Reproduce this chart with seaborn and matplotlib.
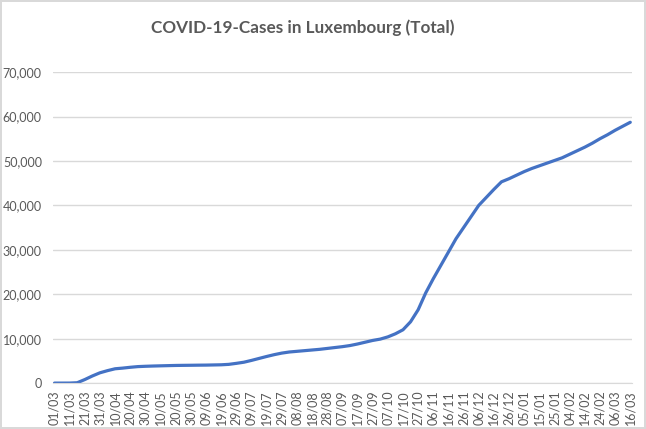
import pandas as pd
import matplotlib
matplotlib.use("Agg")
import matplotlib.pyplot as plt
import matplotlib.dates as mdates
import seaborn as sns

# cumulative cases, read every 5 days from 01/03/2020 to 16/03/2021
start_date = "2020-03-01"
end_date = "2021-03-16"
total_cases = [
    0, 2, 7, 81, 798, 1605, 2319, 2804, 3223, 3373,
    3558, 3711, 3784, 3840, 3886, 3930, 3971, 3995, 4012, 4035,
    4050, 4085, 4120, 4216, 4444, 4700, 5105, 5550, 5990, 6400,
    6750, 7000, 7150, 7300, 7450, 7600, 7800, 8000, 8200, 8450,
    8800, 9200, 9600, 9900, 10400, 11100, 12000, 13800, 16500, 20300,
    23500, 26500, 29500, 32500, 35000, 37500, 40000, 41800, 43600, 45300,
    46000, 46800, 47600, 48300, 48900, 49500, 50100, 50700, 51500, 52300,
    53100, 54000, 55000, 55900, 56900, 57800, 58700,
]
title = "COVID-19-Cases in Luxembourg (Total)"

dates = pd.date_range(start_date, end_date, freq="5D")
df = pd.DataFrame({"date": dates, "cases": total_cases})
tick_dates = pd.date_range(start_date, end_date, freq="10D")

sns.set_style("white")
plt.rcParams["font.family"] = ["Lato", "DejaVu Sans"]

fig = plt.figure(figsize=(6.46, 4.29), dpi=100)
fig.patch.set_edgecolor("#d9d9d9")
fig.patch.set_linewidth(1.5)
ax = fig.add_axes([0.082, 0.107, 0.896, 0.725])

sns.lineplot(data=df, x="date", y="cases", color="#4472C4", linewidth=2.3, ax=ax)

ax.set_ylim(0, 70000)
ax.set_yticks(range(0, 70001, 10000))
ax.yaxis.set_major_formatter(matplotlib.ticker.FuncFormatter(lambda v, p: f"{int(v):,}"))
ax.set_xlim(pd.Timestamp(start_date) - pd.Timedelta(days=1), pd.Timestamp(end_date) + pd.Timedelta(days=1))
ax.set_xticks(tick_dates)
ax.xaxis.set_major_formatter(mdates.DateFormatter("%d/%m"))
ax.tick_params(axis="x", rotation=90, labelsize=9, colors="#595959", length=0, pad=5)
ax.tick_params(axis="y", labelsize=9, colors="#595959", length=0, pad=8)

ax.grid(axis="y", color="#d9d9d9", linewidth=1)
ax.set_axisbelow(True)
for side in ["top", "right", "left"]:
    ax.spines[side].set_visible(False)
ax.spines["bottom"].set_color("#d9d9d9")
ax.set_xlabel("")
ax.set_ylabel("")

fig.text(0.469, 0.935, title, ha="center", va="center", fontsize=12.3,
         fontweight="bold", color="#595959")

fig.savefig("out.png", dpi=100, edgecolor=fig.get_edgecolor())
